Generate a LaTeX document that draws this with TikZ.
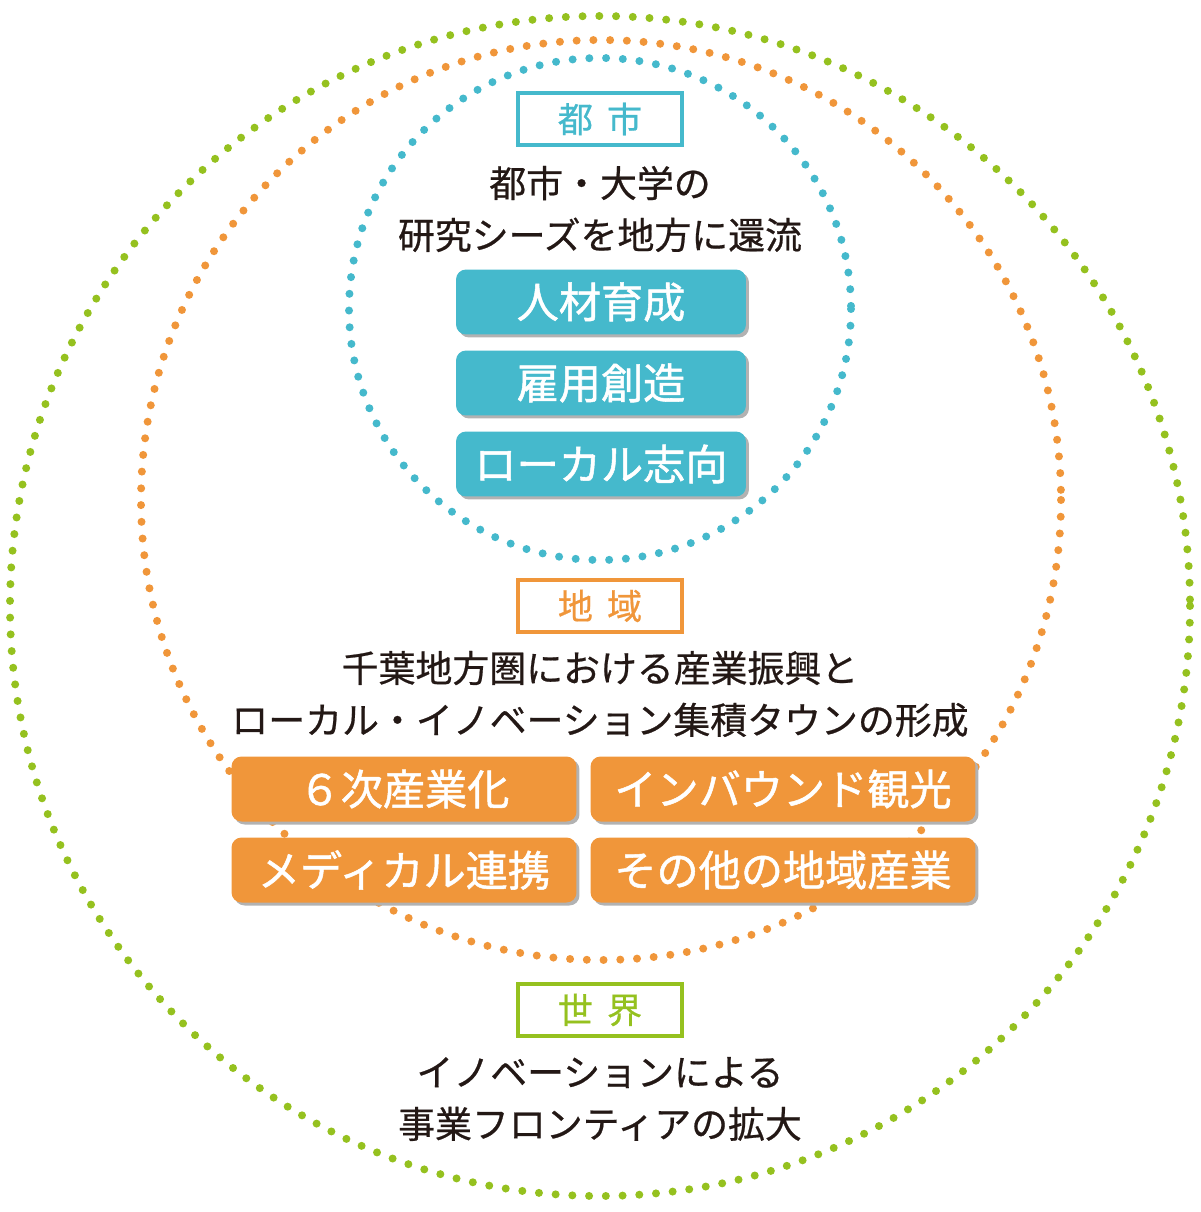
\documentclass[tikz,border=0pt]{standalone}
\usepackage{fontspec}
\setmainfont{Noto Sans CJK JP}
\newfontfamily\futoi[FakeBold=1.2]{Noto Sans CJK JP}
\newfontfamily\yayafuto[FakeBold=0.6]{Noto Sans CJK JP}
\usetikzlibrary{shadows}
\definecolor{toshi}{HTML}{45B9CC}
\definecolor{chiiki}{HTML}{F0963A}
\definecolor{sekai}{HTML}{95C11F}
\definecolor{sumi}{HTML}{231815}
\begin{document}
\begin{tikzpicture}[x=0.02cm,y=-0.02cm]
  \tikzset{
    tenwa/.style={line width=0.16cm,line cap=round,dash pattern=on 0pt off 0.335cm},
    midashi/.style={draw=#1,text=#1,line width=0.07cm,minimum width=3.28cm,minimum height=1.04cm,font=\yayafuto\fontsize{20}{20}\selectfont},
    setsumei/.style={text=sumi,align=center,font=\yayafuto\fontsize{21}{29.5}\selectfont},
    hako/.style={fill=#1,text=white,rounded corners=0.2cm,drop shadow={shadow xshift=0.06cm,shadow yshift=-0.06cm,fill=black!30,opacity=1},font=\futoi\fontsize{24}{24}\selectfont},
  }
  \useasboundingbox (0,0) rectangle (1200,1212);
  % circles
  \draw[tenwa,sekai] (600,606) circle (590);
  \draw[tenwa,chiiki] (601,500) circle (460);
  \draw[tenwa,toshi] (600,309) circle (251);
  % city
  \node[midashi=toshi,fill=white] (toshi) at (600,119) {都\hspace{0.4em}市};
  \node[setsumei] (toshiTxt) at (600,209) {都市・大学の\\研究シーズを地方に還流};
  \node[hako=toshi,minimum width=5.8cm,minimum height=1.3cm] (jinzai) at (601,302) {人材育成};
  \node[hako=toshi,minimum width=5.8cm,minimum height=1.3cm] (koyo) at (601,383) {雇用創造};
  \node[hako=toshi,minimum width=5.8cm,minimum height=1.3cm] (local) at (601,464) {ローカル志向};
  % region
  \node[midashi=chiiki,fill=white] (chiiki) at (600,606) {地\hspace{0.4em}域};
  \node[setsumei] (chiikiTxt) at (600,694) {千葉地方圏における産業振興と\\ローカル・イノベーション集積タウンの形成};
  \node[hako=chiiki,minimum width=6.9cm,minimum height=1.3cm] (rokuji) at (404,789) {６次産業化};
  \node[hako=chiiki,minimum width=7.7cm,minimum height=1.3cm] (inbound) at (783,789) {インバウンド観光};
  \node[hako=chiiki,minimum width=6.9cm,minimum height=1.3cm] (medical) at (404,870) {メディカル連携};
  \node[hako=chiiki,minimum width=7.7cm,minimum height=1.3cm] (sonota) at (783,870) {その他の地域産業};
  % world
  \node[midashi=sekai,fill=white] (sekai) at (600,1010) {世\hspace{0.4em}界};
  \node[setsumei] (sekaiTxt) at (600,1099) {イノベーションによる\\事業フロンティアの拡大};
\end{tikzpicture}
\end{document}
